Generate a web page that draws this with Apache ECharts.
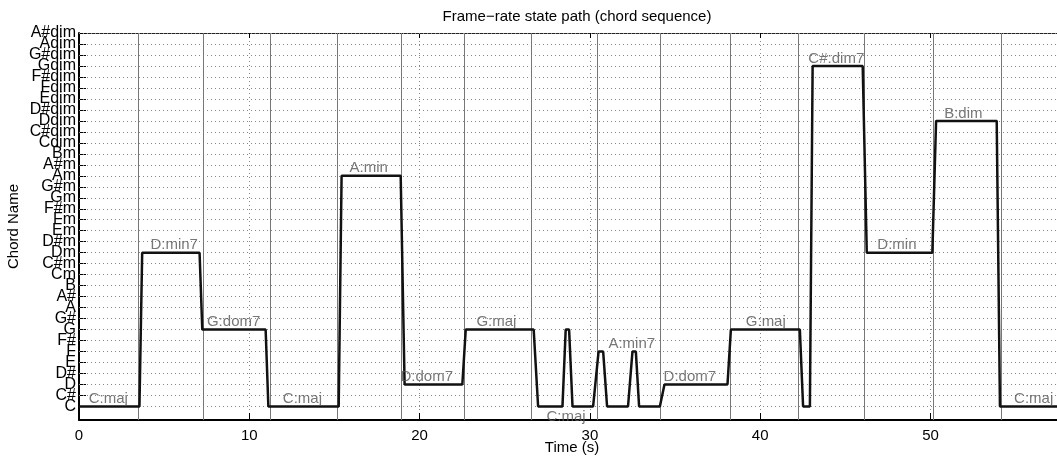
<!DOCTYPE html>
<html>
<head>
<meta charset="utf-8">
<script src="https://cdn.jsdelivr.net/npm/echarts@6/dist/echarts.min.js"></script>
<style>
  html, body { margin: 0; padding: 0; background: #fff; }
  #main { width: 1057px; height: 457px; }
</style>
</head>
<body>
<div id="main"></div>
<script>
// state names, bottom to top
const stateNames = ['C', 'C#', 'D', 'D#', 'E', 'F', 'F#', 'G', 'G#', 'A', 'A#', 'B',
  'Cm', 'C#m', 'Dm', 'D#m', 'Em', 'Fm', 'F#m', 'Gm', 'G#m', 'Am', 'A#m', 'Bm',
  'Cdim', 'C#dim', 'Ddim', 'D#dim', 'Edim', 'Fdim', 'F#dim', 'Gdim', 'G#dim', 'Adim', 'A#dim']

// frame-rate path (time in s, state index)
const pathTimes = [0, 3.55, 3.71, 7.08, 7.24, 10.96, 11.12, 15.25, 15.42, 18.89, 19.12,
  22.51, 22.71, 26.70, 26.96, 28.39, 28.58, 28.78, 28.98, 30.19, 30.51, 30.78, 31.01,
  32.24, 32.50, 32.70, 32.89, 34.11, 34.38, 38.08, 38.28, 42.33, 42.52, 42.92, 43.08,
  46.02, 46.26, 50.11, 50.33, 53.89, 54.08, 57.9]
const pathLevels = [0, 0, 14, 14, 7, 7, 0, 0, 21, 21, 2,
  2, 7, 7, 0, 0, 7, 7, 0, 0, 5, 5, 0,
  0, 5, 5, 0, 0, 2, 2, 7, 7, 0, 0, 31,
  31, 14, 14, 26, 26, 0, 0]

// ground-truth chord boundaries (s)
const boundaryTimes = [3.50, 7.31, 11.23, 15.15, 18.93, 22.61, 26.53, 30.42, 34.15,
  38.22, 42.21, 46.13, 50.16, 54.14]

// chord annotations
const chordNames = ['C:maj', 'D:min7', 'G:dom7', 'C:maj', 'A:min', 'D:dom7', 'G:maj', 'C:maj',
  'A:min7', 'D:dom7', 'G:maj', 'C#:dim7', 'D:min', 'B:dim', 'C:maj']
const chordTimes = [1.72, 5.59, 9.08, 13.12, 17.01, 20.42, 24.51, 28.60,
  32.46, 35.87, 40.33, 44.47, 48.03, 51.93, 56.06]
const chordLevels = [0, 14, 7, 0, 21, 2, 7, 0, 5, 2, 7, 31, 14, 26, 0]
const chordBelow = [7] // this one sits under the line

const xTicks = [0, 10, 20, 30, 40, 50]

const font = 'Liberation Sans, Arial, Helvetica, sans-serif'
const levels = stateNames.map((n, i) => i)
// labels are split over two stacked axes so echarts keeps every one of them
const evenLevels = levels.filter(i => i % 2 === 0)
const oddLevels = levels.filter(i => i % 2 === 1)

const yLabel = vals => ({
  fontFamily: font, fontSize: 16, color: '#000', margin: 3,
  customValues: vals,
  showMinLabel: true,
  showMaxLabel: true,
  hideOverlap: false,
  formatter: v => stateNames[Math.round(v)] || ''
})

const chart = echarts.init(document.getElementById('main'))

const option = {
  animation: false,
  backgroundColor: '#fff',
  title: {
    text: 'Frame\u2212rate state path (chord sequence)',
    left: 572,
    top: 4,
    textAlign: 'center',
    textStyle: { fontFamily: font, fontSize: 15, fontWeight: 'normal', color: '#000' }
  },
  grid: { left: 79, right: -8, top: 33, bottom: 37, outerBoundsMode: 'none' },
  xAxis: [{
    type: 'value',
    min: 0,
    max: 57.9,
    interval: 10,
    name: 'Time (s)',
    nameLocation: 'middle',
    nameGap: 20,
    nameMoveOverlap: false,
    nameTextStyle: { fontFamily: font, fontSize: 15, color: '#000' },
    axisLine: { onZero: false, lineStyle: { color: '#000', width: 2 } },
    axisTick: { inside: true, length: 7, lineStyle: { color: '#000' }, customValues: xTicks },
    axisLabel: { fontFamily: font, fontSize: 15, color: '#000', margin: 8, customValues: xTicks },
    splitLine: { show: true, lineStyle: { color: '#888', type: [1, 3], width: 1 } }
  }, {
    type: 'value',
    position: 'top',
    min: 0,
    max: 57.9,
    interval: 10,
    axisLine: { onZero: false, lineStyle: { color: '#222', width: 1 } },
    axisTick: { inside: true, length: 5, lineStyle: { color: '#000' } },
    axisLabel: { show: false },
    splitLine: { show: false }
  }],
  yAxis: [{
    type: 'value',
    min: -1.23,
    max: 34,
    name: 'Chord Name',
    nameLocation: 'middle',
    nameGap: 58,
    nameMoveOverlap: false,
    nameTextStyle: { fontFamily: font, fontSize: 15, color: '#000' },
    axisLine: { onZero: false, lineStyle: { color: '#000', width: 2 } },
    axisTick: { inside: true, length: 7, lineStyle: { color: '#000' }, customValues: levels },
    axisLabel: yLabel(evenLevels),
    splitLine: { show: false }
  }, {
    type: 'value',
    position: 'left',
    min: -1.23,
    max: 34,
    axisLine: { show: false, onZero: false },
    axisTick: { show: false },
    axisLabel: yLabel(oddLevels),
    splitLine: { show: false }
  }],
  series: [
    {
      // dotted horizontal grid at every state + chord boundaries
      type: 'line',
      data: [],
      silent: true,
      markLine: {
        symbol: 'none',
        silent: true,
        label: { show: false },
        data: levels.map(i => ({ yAxis: i, lineStyle: { color: '#888', type: [1, 3], width: 1 } }))
          .concat(boundaryTimes.map(t => ({ xAxis: t, lineStyle: { color: '#777', type: 'solid', width: 1 } })))
      }
    },
    {
      type: 'line',
      data: pathTimes.map((t, i) => [t, pathLevels[i]]),
      symbol: 'none',
      lineStyle: { color: '#111', width: 2.5 },
      z: 5
    },
    {
      type: 'scatter',
      symbolSize: 0,
      z: 6,
      data: chordNames.map((n, i) => ({
        name: n,
        value: [chordTimes[i], chordLevels[i]],
        label: chordBelow.includes(i) ? { position: 'bottom', distance: 3 } : undefined
      })),
      label: {
        show: true,
        position: 'top',
        distance: 0,
        formatter: p => p.name,
        fontFamily: font,
        fontSize: 15,
        color: '#555'
      }
    }
  ]
}

option && chart.setOption(option)
</script>
</body>
</html>
